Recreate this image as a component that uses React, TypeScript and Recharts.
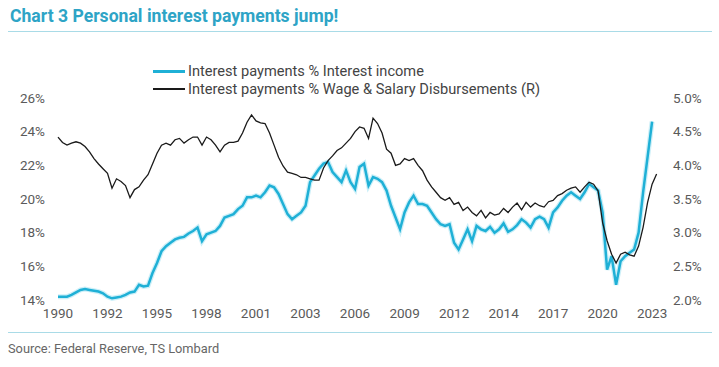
import { LineChart, Line, XAxis, YAxis } from 'recharts';

// quarterly observations, first quarter of 1990 onwards
const START_YEAR = 1990;

// Interest payments % Interest income (left axis)
const incomeShare = [
  14.2, 14.2, 14.2, 14.3,
  14.45, 14.6, 14.65, 14.6,
  14.55, 14.5, 14.4, 14.2,
  14.1, 14.15, 14.2, 14.3,
  14.45, 14.5, 14.9, 14.8,
  14.85, 15.6, 16.2, 16.9,
  17.2, 17.4, 17.6, 17.7,
  17.75, 17.95, 18.1, 18.3,
  17.5, 17.9, 18.0, 18.1,
  18.4, 18.9, 19.0, 19.1,
  19.4, 19.6, 20.1, 20.1,
  20.2, 20.1, 20.4, 20.8,
  20.7, 20.3, 19.7, 19.1,
  18.8, 19.0, 19.2, 19.6,
  21.0, 21.4, 21.8, 22.1,
  22.2, 21.6, 21.3, 21.0,
  21.7, 21.0, 20.6, 21.9,
  22.1, 20.8, 21.3, 21.2,
  21.0, 20.5, 19.6, 18.9,
  18.2, 19.2, 19.8, 20.2,
  19.7, 19.7, 19.6, 19.2,
  18.8, 18.5, 18.4, 18.5,
  17.4, 17.0, 17.6, 18.2,
  17.5, 18.4, 18.2, 18.1,
  18.35, 18.0, 18.2, 18.55,
  18.05, 18.2, 18.45, 18.8,
  18.6, 18.3, 18.8, 18.95,
  18.8, 18.3, 19.2, 19.5,
  19.9, 20.2, 20.4, 20.2,
  20.0, 20.4, 20.9, 20.7,
  20.5, 19.2, 15.8, 16.6,
  14.9, 16.3, 16.6, 16.8,
  17.0, 18.0, 20.4, 22.5,
  24.6, null,
];

// Interest payments % Wage & Salary Disbursements (right axis)
const wageShare = [
  4.42, 4.34, 4.30, 4.33,
  4.35, 4.33, 4.28, 4.20,
  4.10, 4.02, 3.95, 3.88,
  3.66, 3.80, 3.76, 3.70,
  3.52, 3.64, 3.68, 3.78,
  3.86, 4.02, 4.18, 4.30,
  4.33, 4.30, 4.38, 4.40,
  4.33, 4.38, 4.42, 4.42,
  4.30, 4.42, 4.38, 4.30,
  4.20, 4.30, 4.34, 4.34,
  4.36, 4.48, 4.64, 4.75,
  4.66, 4.63, 4.62, 4.48,
  4.30, 4.12, 3.99, 3.90,
  3.88, 3.86, 3.82, 3.82,
  3.80, 3.78, 3.78, 3.96,
  4.07, 4.14, 4.22, 4.26,
  4.33, 4.40, 4.50, 4.57,
  4.55, 4.40, 4.70, 4.62,
  4.48, 4.24, 4.18, 4.00,
  4.02, 4.10, 4.07, 4.10,
  4.00, 3.92, 3.78, 3.68,
  3.60, 3.52, 3.48, 3.52,
  3.42, 3.45, 3.33, 3.38,
  3.30, 3.25, 3.33, 3.22,
  3.30, 3.26, 3.28, 3.36,
  3.30, 3.38, 3.44, 3.34,
  3.45, 3.38, 3.44, 3.40,
  3.38, 3.46, 3.48, 3.55,
  3.58, 3.63, 3.66, 3.68,
  3.60, 3.68, 3.75, 3.72,
  3.62, 3.15, 2.88, 2.68,
  2.55, 2.68, 2.71, 2.67,
  2.65, 2.80, 3.08, 3.45,
  3.72, 3.87,
];

const xTicks = [1990, 1992.75, 1995.5, 1998.25, 2001, 2003.75, 2006.5, 2009.25, 2012, 2014.75, 2017.5, 2020.25, 2023];
const leftTicks = [14, 16, 18, 20, 22, 24, 26];
const rightTicks = [2, 2.5, 3, 3.5, 4, 4.5, 5];

const data = wageShare.map((w, i) => ({
  t: START_YEAR + i / 4,
  income: incomeShare[i],
  wage: w,
}));

const BLUE = '#1fb0d6';
const TEAL = '#2ea4c6';
const tickStyle = { fontSize: 13.5, fill: '#5a5a5a', fontFamily: 'Roboto' };

const App = () => {
  return (
    <div style={{ position: 'absolute', left: 0, top: 0, width: 719, height: 367, background: '#fff', fontFamily: 'Roboto' }}>
      <div style={{ position: 'absolute', left: 10, top: 6, fontSize: 17.6, fontWeight: 700, color: TEAL, whiteSpace: 'nowrap' }}>
        Chart 3 Personal interest payments jump!
      </div>
      <div style={{ position: 'absolute', left: 8, top: 31, width: 704, height: 1, background: '#a9dbe7' }} />

      <LineChart width={719} height={367} data={data}
        margin={{ top: 98, right: 0, bottom: 37, left: 0 }}
        style={{ position: 'absolute', left: 0, top: 0 }}>
        <XAxis dataKey="t" type="number" domain={[1990, 2023.55]} ticks={xTicks}
          tickFormatter={(v: number) => String(Math.floor(v))}
          axisLine={false} tickLine={false} tick={tickStyle} height={30} interval={0} />
        <YAxis yAxisId="left" domain={[14, 26]} ticks={leftTicks} width={58}
          tickFormatter={(v: number) => `${v}%`} axisLine={false} tickLine={false}
          tickMargin={7} tick={tickStyle} />
        <YAxis yAxisId="right" orientation="right" domain={[2, 5]} ticks={rightTicks} width={57}
          tickFormatter={(v: number) => `${v.toFixed(1)}%`} axisLine={false} tickLine={false}
          tickMargin={5} tick={tickStyle} />
        <Line yAxisId="left" dataKey="income" stroke="#8fdcf0" strokeOpacity={0.45} strokeWidth={5}
          dot={false} activeDot={false} isAnimationActive={false} type="linear" />
        <Line yAxisId="left" dataKey="income" stroke={BLUE} strokeWidth={2.5}
          dot={false} activeDot={false} isAnimationActive={false} type="linear" />
        <Line yAxisId="right" dataKey="wage" stroke="#1a1a1a" strokeWidth={1.3}
          dot={false} activeDot={false} isAnimationActive={false} type="linear" />
      </LineChart>

      <div style={{ position: 'absolute', left: 153, top: 62, fontSize: 14.6, color: '#444', lineHeight: '18px' }}>
        <div style={{ display: 'flex', alignItems: 'center' }}>
          <span style={{ width: 32, height: 3, background: BLUE, marginRight: 3 }} />
          Interest payments % Interest income
        </div>
        <div style={{ display: 'flex', alignItems: 'center' }}>
          <span style={{ width: 32, height: 1.5, background: '#1a1a1a', marginRight: 3 }} />
          Interest payments % Wage &amp; Salary Disbursements (R)
        </div>
      </div>

      <div style={{ position: 'absolute', left: 8, top: 332, width: 704, height: 1, background: '#a9dbe7' }} />
      <div style={{ position: 'absolute', left: 8, top: 341, fontSize: 12.8, color: '#666' }}>
        Source: Federal Reserve, TS Lombard
      </div>
    </div>
  );
};

export default App;
